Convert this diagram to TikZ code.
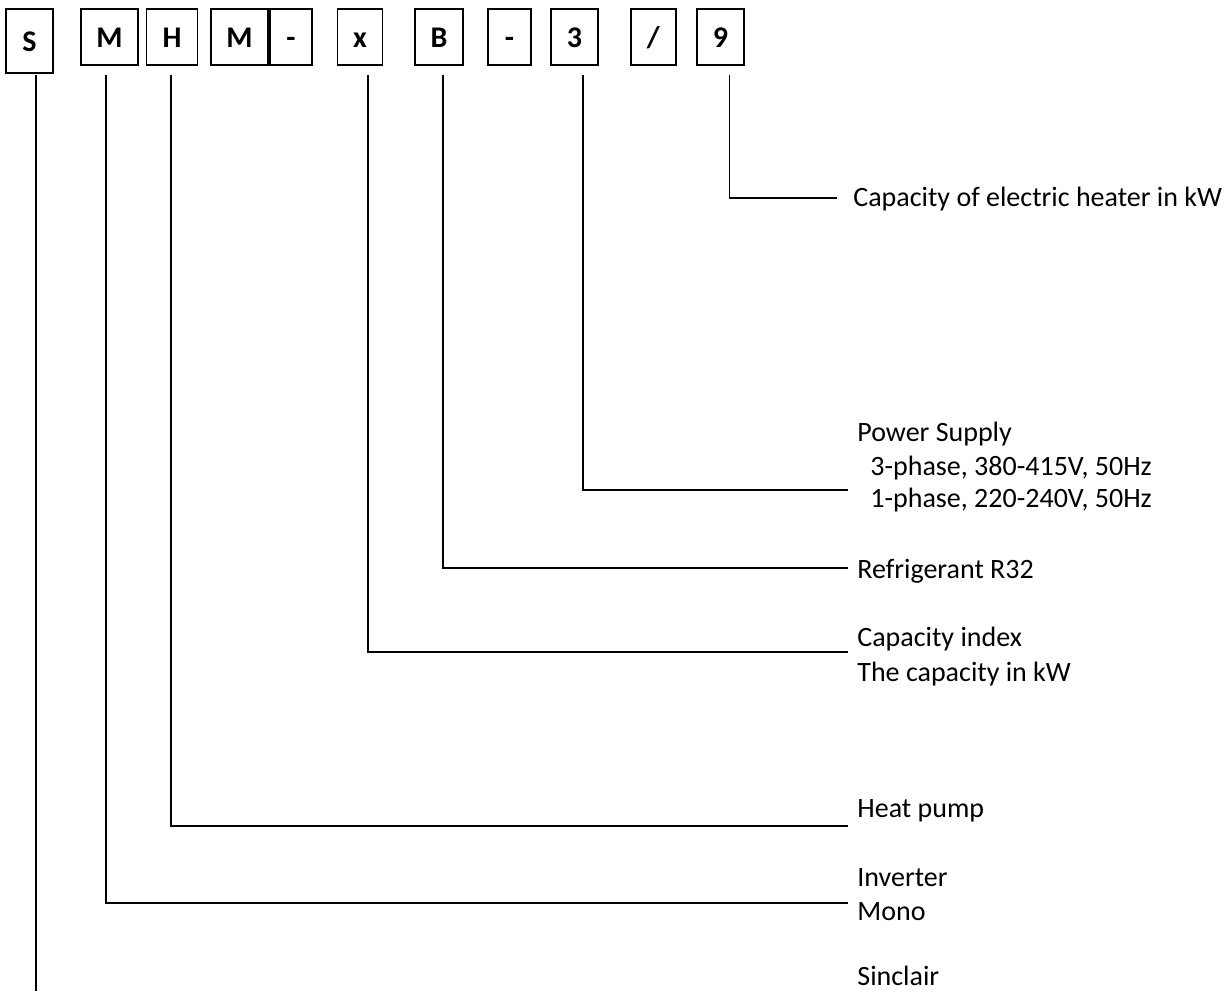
\documentclass[tikz,border=0pt]{standalone}
\usepackage{fontspec}
\setmainfont{Carlito}
\usepackage{tikz}
\usetikzlibrary{positioning}

\begin{document}
\begin{tikzpicture}[
    x=0.5pt, y=-0.5pt,
    letterbox/.style={rectangle, draw, line width=0.9pt, minimum height=28pt, inner sep=0pt, text height=10.5pt, text depth=0pt, font=\fontsize{15}{18}\selectfont\bfseries},
    lead/.style={line width=0.8pt},
    label/.style={anchor=base west, inner sep=0pt, font=\fontsize{14}{17}\selectfont},
]
\useasboundingbox (0,0) rectangle (1232,991);

% code letters
\node[letterbox, minimum width=23.5pt, minimum height=32pt] (bS) at (29.5,41) {S};
\node[letterbox, minimum width=28.5pt] (bM) at (109.5,37) {M};
\node[letterbox, minimum width=25.5pt] (bH) at (172,37) {H};
\node[letterbox, minimum width=28.8pt] (bMono) at (239.5,37) {M};
\node[letterbox, minimum width=21pt] (bDashA) at (291,37) {-};
\node[letterbox, minimum width=22.5pt] (bX) at (360,37) {x};
\node[letterbox, minimum width=24.3pt] (bB) at (439,37) {B};
\node[letterbox, minimum width=21.2pt] (bDashB) at (509.5,37) {-};
\node[letterbox, minimum width=23.8pt] (bPhase) at (574.5,37) {3};
\node[letterbox, minimum width=22.7pt] (bSlash) at (653.3,37) {/};
\node[letterbox, minimum width=23.8pt] (bHeater) at (720.5,37) {9};

% descriptions
\node[label] (tHeater) at (853,206) {Capacity of electric heater in kW};
\node[label] (tPower) at (857,441) {Power Supply};
\node[label] (tThree) at (870,475) {3-phase, 380-415V, 50Hz};
\node[label] (tOne) at (870,507) {1-phase, 220-240V, 50Hz};
\node[label] (tRefr) at (857,578) {Refrigerant R32};
\node[label] (tIndex) at (857,646) {Capacity index};
\node[label] (tKw) at (857,681) {The capacity in kW};
\node[label] (tPump) at (857,817) {Heat pump};
\node[label] (tInv) at (857,886) {Inverter};
\node[label] (tMono) at (857,920) {Mono};
\node[label] (tSinclair) at (857,985) {Sinclair};

% line ends
\coordinate (eHeater) at (837,198);
\coordinate (ePhase) at (848,490);
\coordinate (eB) at (848,568);
\coordinate (eX) at (848,652);
\coordinate (eH) at (848,826);
\coordinate (eM) at (848,903);
\coordinate (eS) at (36,991);

% leads
\draw[lead] ([shift={(4.4pt,-4.5pt)}]bHeater.south) |- (eHeater);
\draw[lead] ([shift={(4.1pt,-4.5pt)}]bPhase.south) |- (ePhase);
\draw[lead] ([shift={(1.85pt,-4.5pt)}]bB.south) |- (eB);
\draw[lead] ([shift={(3.85pt,-4.5pt)}]bX.south) |- (eX);
\draw[lead] ([shift={(-0.5pt,-4.5pt)}]bH.south) |- (eH);
\draw[lead] ([shift={(-1.75pt,-4.5pt)}]bM.south) |- (eM);
\draw[lead] ([shift={(3.25pt,-0.5pt)}]bS.south) -- (eS);

\end{tikzpicture}
\end{document}
